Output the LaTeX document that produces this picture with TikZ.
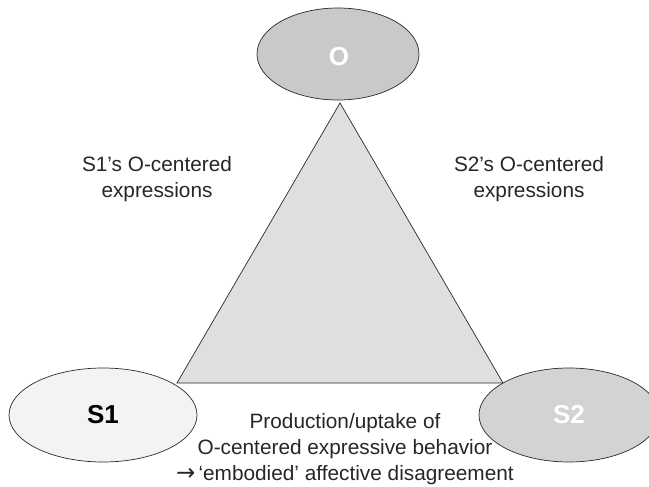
\documentclass[tikz,border=0pt]{standalone}
\usepackage{fontspec}
\setmainfont{Liberation Sans}
\newfontfamily\arrowfont{DejaVu Sans}
\usetikzlibrary{shapes.geometric}
\definecolor{ofill}{HTML}{C8C9CB}
\definecolor{trifill}{HTML}{DEDFE0}
\definecolor{sonefill}{HTML}{F3F3F3}
\definecolor{stwofill}{HTML}{D2D3D5}
\definecolor{edge}{HTML}{2A2A2A}
\begin{document}
\begin{tikzpicture}[x=1pt,y=-1pt,
  blob/.style={ellipse,draw=edge,line width=0.7pt,inner sep=0pt},
  blobtext/.style={font=\fontsize{26}{30}\selectfont\bfseries},
  caption/.style={align=center,font=\fontsize{20.8}{26}\selectfont,text=black!85,inner sep=0pt}]
\useasboundingbox (0,0) rectangle (649,487);
\clip (0,0) rectangle (649,487);
% triangle
\coordinate (apex) at (340,103);
\coordinate (bl) at (177,383);
\coordinate (br) at (503,383);
\draw[fill=trifill,draw=edge,line width=0.7pt] (apex) -- (bl) -- (br) -- cycle;
% ellipses
\node[blob,fill=ofill,minimum width=162pt,minimum height=92pt] (O) at (338,54) {};
\node[blobtext,text=white] (Olab) at (339,57) {O};
\node[blob,fill=sonefill,minimum width=188pt,minimum height=94pt] (S1) at (103,415) {};
\node[blobtext,text=black] (S1lab) at (S1.center) {S1};
\node[blob,fill=stwofill,minimum width=180pt,minimum height=94pt] (S2) at (569,415) {};
\node[blobtext,text=white] (S2lab) at (S2.center) {S2};
% captions (base anchor = baseline of last line)
\node[caption,anchor=base] (c1) at (157,197) {S1’s O-centered\\expressions};
\node[caption,anchor=base] (c2) at (529,197) {S2’s O-centered\\expressions};
\node[caption,anchor=base] (c3) at (345,480) {Production/uptake of\\O-centered expressive behavior\\{\arrowfont\fontsize{23}{26}\selectfont →}\kern3pt‘embodied’ affective disagreement};
\end{tikzpicture}
\end{document}
